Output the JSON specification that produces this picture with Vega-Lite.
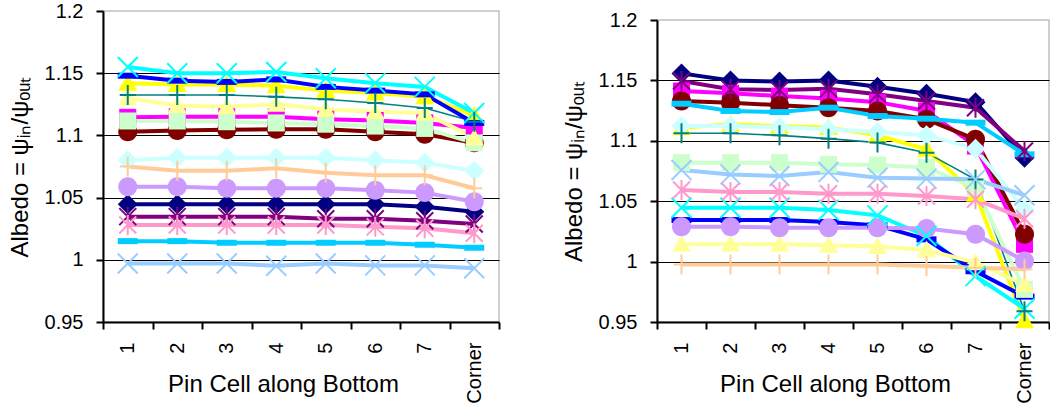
{
  "$schema": "https://vega.github.io/schema/vega-lite/v6.json",
  "padding": {"left": 7, "top": 0, "right": 0, "bottom": 0},
  "spacing": 60,
  "config": {
    "font": "Liberation Sans, Arial, sans-serif",
    "view": {"stroke": "#c0c0c0", "strokeWidth": 1.5},
    "axis": {
      "labelFontSize": 20, "titleFontSize": 24, "titleFontWeight": "normal",
      "labelColor": "black", "titleColor": "black",
      "domainColor": "black", "domainWidth": 2,
      "tickColor": "black", "tickWidth": 2, "tickSize": 7,
      "labelPadding": 13, "titlePadding": 12
    }
  },
  "datasets": {
    "left": [
      {"s": "s01", "pin": "1", "v": 1.0446}, {"s": "s01", "pin": "2", "v": 1.0446}, {"s": "s01", "pin": "3", "v": 1.0446}, {"s": "s01", "pin": "4", "v": 1.0446}, {"s": "s01", "pin": "5", "v": 1.0446}, {"s": "s01", "pin": "6", "v": 1.0446}, {"s": "s01", "pin": "7", "v": 1.0427}, {"s": "s01", "pin": "Corner", "v": 1.0387},
      {"s": "s02", "pin": "1", "v": 1.1145}, {"s": "s02", "pin": "2", "v": 1.115}, {"s": "s02", "pin": "3", "v": 1.115}, {"s": "s02", "pin": "4", "v": 1.115}, {"s": "s02", "pin": "5", "v": 1.113}, {"s": "s02", "pin": "6", "v": 1.112}, {"s": "s02", "pin": "7", "v": 1.11}, {"s": "s02", "pin": "Corner", "v": 1.106},
      {"s": "s03", "pin": "1", "v": 1.142}, {"s": "s03", "pin": "2", "v": 1.141}, {"s": "s03", "pin": "3", "v": 1.141}, {"s": "s03", "pin": "4", "v": 1.14}, {"s": "s03", "pin": "5", "v": 1.136}, {"s": "s03", "pin": "6", "v": 1.134}, {"s": "s03", "pin": "7", "v": 1.131}, {"s": "s03", "pin": "Corner", "v": 1.116},
      {"s": "s04", "pin": "1", "v": 1.155}, {"s": "s04", "pin": "2", "v": 1.15}, {"s": "s04", "pin": "3", "v": 1.15}, {"s": "s04", "pin": "4", "v": 1.151}, {"s": "s04", "pin": "5", "v": 1.146}, {"s": "s04", "pin": "6", "v": 1.142}, {"s": "s04", "pin": "7", "v": 1.139}, {"s": "s04", "pin": "Corner", "v": 1.118},
      {"s": "s05", "pin": "1", "v": 1.0347}, {"s": "s05", "pin": "2", "v": 1.0347}, {"s": "s05", "pin": "3", "v": 1.0347}, {"s": "s05", "pin": "4", "v": 1.0347}, {"s": "s05", "pin": "5", "v": 1.033}, {"s": "s05", "pin": "6", "v": 1.033}, {"s": "s05", "pin": "7", "v": 1.0314}, {"s": "s05", "pin": "Corner", "v": 1.0288},
      {"s": "s06", "pin": "1", "v": 1.103}, {"s": "s06", "pin": "2", "v": 1.104}, {"s": "s06", "pin": "3", "v": 1.1045}, {"s": "s06", "pin": "4", "v": 1.105}, {"s": "s06", "pin": "5", "v": 1.105}, {"s": "s06", "pin": "6", "v": 1.103}, {"s": "s06", "pin": "7", "v": 1.101}, {"s": "s06", "pin": "Corner", "v": 1.094},
      {"s": "s07", "pin": "1", "v": 1.1325}, {"s": "s07", "pin": "2", "v": 1.1325}, {"s": "s07", "pin": "3", "v": 1.1325}, {"s": "s07", "pin": "4", "v": 1.131}, {"s": "s07", "pin": "5", "v": 1.129}, {"s": "s07", "pin": "6", "v": 1.126}, {"s": "s07", "pin": "7", "v": 1.122}, {"s": "s07", "pin": "Corner", "v": 1.111},
      {"s": "s08", "pin": "1", "v": 1.148}, {"s": "s08", "pin": "2", "v": 1.144}, {"s": "s08", "pin": "3", "v": 1.143}, {"s": "s08", "pin": "4", "v": 1.145}, {"s": "s08", "pin": "5", "v": 1.139}, {"s": "s08", "pin": "6", "v": 1.136}, {"s": "s08", "pin": "7", "v": 1.133}, {"s": "s08", "pin": "Corner", "v": 1.11},
      {"s": "s09", "pin": "1", "v": 1.015}, {"s": "s09", "pin": "2", "v": 1.015}, {"s": "s09", "pin": "3", "v": 1.0137}, {"s": "s09", "pin": "4", "v": 1.0137}, {"s": "s09", "pin": "5", "v": 1.0137}, {"s": "s09", "pin": "6", "v": 1.0137}, {"s": "s09", "pin": "7", "v": 1.0121}, {"s": "s09", "pin": "Corner", "v": 1.0097},
      {"s": "s10", "pin": "1", "v": 1.08}, {"s": "s10", "pin": "2", "v": 1.082}, {"s": "s10", "pin": "3", "v": 1.082}, {"s": "s10", "pin": "4", "v": 1.082}, {"s": "s10", "pin": "5", "v": 1.082}, {"s": "s10", "pin": "6", "v": 1.08}, {"s": "s10", "pin": "7", "v": 1.078}, {"s": "s10", "pin": "Corner", "v": 1.0716},
      {"s": "s11", "pin": "1", "v": 1.1116}, {"s": "s11", "pin": "2", "v": 1.1116}, {"s": "s11", "pin": "3", "v": 1.111}, {"s": "s11", "pin": "4", "v": 1.11}, {"s": "s11", "pin": "5", "v": 1.109}, {"s": "s11", "pin": "6", "v": 1.1075}, {"s": "s11", "pin": "7", "v": 1.1056}, {"s": "s11", "pin": "Corner", "v": 1.094},
      {"s": "s12", "pin": "1", "v": 1.13}, {"s": "s12", "pin": "2", "v": 1.124}, {"s": "s12", "pin": "3", "v": 1.123}, {"s": "s12", "pin": "4", "v": 1.125}, {"s": "s12", "pin": "5", "v": 1.121}, {"s": "s12", "pin": "6", "v": 1.119}, {"s": "s12", "pin": "7", "v": 1.118}, {"s": "s12", "pin": "Corner", "v": 1.098},
      {"s": "s13", "pin": "1", "v": 0.997}, {"s": "s13", "pin": "2", "v": 0.997}, {"s": "s13", "pin": "3", "v": 0.997}, {"s": "s13", "pin": "4", "v": 0.9952}, {"s": "s13", "pin": "5", "v": 0.997}, {"s": "s13", "pin": "6", "v": 0.9955}, {"s": "s13", "pin": "7", "v": 0.9955}, {"s": "s13", "pin": "Corner", "v": 0.9932},
      {"s": "s14", "pin": "1", "v": 1.028}, {"s": "s14", "pin": "2", "v": 1.028}, {"s": "s14", "pin": "3", "v": 1.028}, {"s": "s14", "pin": "4", "v": 1.028}, {"s": "s14", "pin": "5", "v": 1.028}, {"s": "s14", "pin": "6", "v": 1.0265}, {"s": "s14", "pin": "7", "v": 1.0253}, {"s": "s14", "pin": "Corner", "v": 1.0213},
      {"s": "s15", "pin": "1", "v": 1.0588}, {"s": "s15", "pin": "2", "v": 1.0588}, {"s": "s15", "pin": "3", "v": 1.0575}, {"s": "s15", "pin": "4", "v": 1.0575}, {"s": "s15", "pin": "5", "v": 1.0575}, {"s": "s15", "pin": "6", "v": 1.056}, {"s": "s15", "pin": "7", "v": 1.054}, {"s": "s15", "pin": "Corner", "v": 1.0467},
      {"s": "s16", "pin": "1", "v": 1.075}, {"s": "s16", "pin": "2", "v": 1.0716}, {"s": "s16", "pin": "3", "v": 1.0716}, {"s": "s16", "pin": "4", "v": 1.0735}, {"s": "s16", "pin": "5", "v": 1.07}, {"s": "s16", "pin": "6", "v": 1.068}, {"s": "s16", "pin": "7", "v": 1.068}, {"s": "s16", "pin": "Corner", "v": 1.0575}
    ],
    "right": [
      {"s": "s01", "pin": "1", "v": 1.1558}, {"s": "s01", "pin": "2", "v": 1.15}, {"s": "s01", "pin": "3", "v": 1.149}, {"s": "s01", "pin": "4", "v": 1.15}, {"s": "s01", "pin": "5", "v": 1.1448}, {"s": "s01", "pin": "6", "v": 1.139}, {"s": "s01", "pin": "7", "v": 1.132}, {"s": "s01", "pin": "Corner", "v": 1.086},
      {"s": "s02", "pin": "1", "v": 1.1412}, {"s": "s02", "pin": "2", "v": 1.1393}, {"s": "s02", "pin": "3", "v": 1.137}, {"s": "s02", "pin": "4", "v": 1.135}, {"s": "s02", "pin": "5", "v": 1.132}, {"s": "s02", "pin": "6", "v": 1.1247}, {"s": "s02", "pin": "7", "v": 1.0957}, {"s": "s02", "pin": "Corner", "v": 1.0143},
      {"s": "s03", "pin": "1", "v": 1.1109}, {"s": "s03", "pin": "2", "v": 1.1136}, {"s": "s03", "pin": "3", "v": 1.1122}, {"s": "s03", "pin": "4", "v": 1.111}, {"s": "s03", "pin": "5", "v": 1.1045}, {"s": "s03", "pin": "6", "v": 1.093}, {"s": "s03", "pin": "7", "v": 1.0557}, {"s": "s03", "pin": "Corner", "v": 0.951},
      {"s": "s04", "pin": "1", "v": 1.0446}, {"s": "s04", "pin": "2", "v": 1.0446}, {"s": "s04", "pin": "3", "v": 1.0446}, {"s": "s04", "pin": "4", "v": 1.0427}, {"s": "s04", "pin": "5", "v": 1.0383}, {"s": "s04", "pin": "6", "v": 1.0212}, {"s": "s04", "pin": "7", "v": 0.988}, {"s": "s04", "pin": "Corner", "v": 0.961},
      {"s": "s05", "pin": "1", "v": 1.1495}, {"s": "s05", "pin": "2", "v": 1.1426}, {"s": "s05", "pin": "3", "v": 1.142}, {"s": "s05", "pin": "4", "v": 1.143}, {"s": "s05", "pin": "5", "v": 1.1385}, {"s": "s05", "pin": "6", "v": 1.133}, {"s": "s05", "pin": "7", "v": 1.1274}, {"s": "s05", "pin": "Corner", "v": 1.0915},
      {"s": "s06", "pin": "1", "v": 1.133}, {"s": "s06", "pin": "2", "v": 1.1316}, {"s": "s06", "pin": "3", "v": 1.1294}, {"s": "s06", "pin": "4", "v": 1.1274}, {"s": "s06", "pin": "5", "v": 1.1247}, {"s": "s06", "pin": "6", "v": 1.1178}, {"s": "s06", "pin": "7", "v": 1.1012}, {"s": "s06", "pin": "Corner", "v": 1.0226},
      {"s": "s07", "pin": "1", "v": 1.1062}, {"s": "s07", "pin": "2", "v": 1.1062}, {"s": "s07", "pin": "3", "v": 1.1045}, {"s": "s07", "pin": "4", "v": 1.1018}, {"s": "s07", "pin": "5", "v": 1.0985}, {"s": "s07", "pin": "6", "v": 1.0902}, {"s": "s07", "pin": "7", "v": 1.068}, {"s": "s07", "pin": "Corner", "v": 0.959},
      {"s": "s08", "pin": "1", "v": 1.0344}, {"s": "s08", "pin": "2", "v": 1.0344}, {"s": "s08", "pin": "3", "v": 1.0344}, {"s": "s08", "pin": "4", "v": 1.0328}, {"s": "s08", "pin": "5", "v": 1.03}, {"s": "s08", "pin": "6", "v": 1.0184}, {"s": "s08", "pin": "7", "v": 0.992}, {"s": "s08", "pin": "Corner", "v": 0.971},
      {"s": "s09", "pin": "1", "v": 1.1307}, {"s": "s09", "pin": "2", "v": 1.1247}, {"s": "s09", "pin": "3", "v": 1.1238}, {"s": "s09", "pin": "4", "v": 1.1274}, {"s": "s09", "pin": "5", "v": 1.1205}, {"s": "s09", "pin": "6", "v": 1.1183}, {"s": "s09", "pin": "7", "v": 1.115}, {"s": "s09", "pin": "Corner", "v": 1.0888},
      {"s": "s10", "pin": "1", "v": 1.1123}, {"s": "s10", "pin": "2", "v": 1.1123}, {"s": "s10", "pin": "3", "v": 1.1114}, {"s": "s10", "pin": "4", "v": 1.1095}, {"s": "s10", "pin": "5", "v": 1.1073}, {"s": "s10", "pin": "6", "v": 1.1045}, {"s": "s10", "pin": "7", "v": 1.0935}, {"s": "s10", "pin": "Corner", "v": 1.043},
      {"s": "s11", "pin": "1", "v": 1.0819}, {"s": "s11", "pin": "2", "v": 1.0819}, {"s": "s11", "pin": "3", "v": 1.0819}, {"s": "s11", "pin": "4", "v": 1.0805}, {"s": "s11", "pin": "5", "v": 1.08}, {"s": "s11", "pin": "6", "v": 1.0778}, {"s": "s11", "pin": "7", "v": 1.0612}, {"s": "s11", "pin": "Corner", "v": 0.977},
      {"s": "s12", "pin": "1", "v": 1.0143}, {"s": "s12", "pin": "2", "v": 1.0143}, {"s": "s12", "pin": "3", "v": 1.0143}, {"s": "s12", "pin": "4", "v": 1.0135}, {"s": "s12", "pin": "5", "v": 1.0124}, {"s": "s12", "pin": "6", "v": 1.0096}, {"s": "s12", "pin": "7", "v": 0.9991}, {"s": "s12", "pin": "Corner", "v": 0.981},
      {"s": "s13", "pin": "1", "v": 1.0758}, {"s": "s13", "pin": "2", "v": 1.0722}, {"s": "s13", "pin": "3", "v": 1.0709}, {"s": "s13", "pin": "4", "v": 1.0742}, {"s": "s13", "pin": "5", "v": 1.0695}, {"s": "s13", "pin": "6", "v": 1.0687}, {"s": "s13", "pin": "7", "v": 1.0681}, {"s": "s13", "pin": "Corner", "v": 1.0549},
      {"s": "s14", "pin": "1", "v": 1.0593}, {"s": "s14", "pin": "2", "v": 1.0576}, {"s": "s14", "pin": "3", "v": 1.0576}, {"s": "s14", "pin": "4", "v": 1.0562}, {"s": "s14", "pin": "5", "v": 1.0562}, {"s": "s14", "pin": "6", "v": 1.0543}, {"s": "s14", "pin": "7", "v": 1.0516}, {"s": "s14", "pin": "Corner", "v": 1.0355},
      {"s": "s15", "pin": "1", "v": 1.0289}, {"s": "s15", "pin": "2", "v": 1.0289}, {"s": "s15", "pin": "3", "v": 1.0281}, {"s": "s15", "pin": "4", "v": 1.0281}, {"s": "s15", "pin": "5", "v": 1.0281}, {"s": "s15", "pin": "6", "v": 1.0273}, {"s": "s15", "pin": "7", "v": 1.0226}, {"s": "s15", "pin": "Corner", "v": 1.0005},
      {"s": "s16", "pin": "1", "v": 0.9977}, {"s": "s16", "pin": "2", "v": 0.9977}, {"s": "s16", "pin": "3", "v": 0.9977}, {"s": "s16", "pin": "4", "v": 0.9977}, {"s": "s16", "pin": "5", "v": 0.9977}, {"s": "s16", "pin": "6", "v": 0.9964}, {"s": "s16", "pin": "7", "v": 0.995}, {"s": "s16", "pin": "Corner", "v": 0.9936}
    ],
    "blank": [{"a": 1}]
  },
  "hconcat": [
    {
      "width": 396, "height": 311,
      "data": {"name": "left"},
      "encoding": {
        "x": {"field": "pin", "type": "ordinal", "sort": ["1","2","3","4","5","6","7","Corner"],
              "scale": {"type": "band", "paddingInner": 0, "paddingOuter": 0},
              "axis": {"title": "Pin Cell along Bottom", "labelAngle": -90, "labelAlign": "right", "labelBaseline": "middle", "tickBand": "extent", "grid": false,
                       "titleBaseline": "alphabetic", "titleY": 69, "titleX": 180, "titleAlign": "center"}},
        "y": {"field": "v", "type": "quantitative",
              "scale": {"domain": [0.95, 1.2], "nice": false, "zero": false},
              "axis": {"title": "Albedo = ψᵢₙ/ψₒᵤₜ", "values": [0.95, 1, 1.05, 1.1, 1.15, 1.2], "format": "~g",
                       "grid": true, "gridWidth": 1.2,
                       "gridColor": {"condition": {"test": "datum.value > 1.19 || datum.value < 0.96", "value": "transparent"}, "value": "black"}}},
        "color": {"field": "s", "type": "nominal", "legend": null,
                  "scale": {"domain": ["s01","s02","s03","s04","s05","s06","s07","s08","s09","s10","s11","s12","s13","s14","s15","s16"],
                            "range": ["#000080","#FF00FF","#FFFF00","#00FFFF","#800080","#800000","#008080","#0000FF","#00CCFF","#CCFFFF","#CCFFCC","#FFFF99","#99CCFF","#FF99CC","#CC99FF","#FFCC99"]}},
        "shape": {"field": "s", "type": "nominal", "legend": null,
                  "scale": {"domain": ["s01","s02","s03","s04","s05","s06","s07","s08","s09","s10","s11","s12","s13","s14","s15","s16"],
                            "range": ["M0,-1L1,0L0,1L-1,0Z","M-0.85,-0.85H0.85V0.85H-0.85Z","M0,-0.95L0.95,0.75H-0.95Z","M-1,-1L1,1M-1,1L1,-1","M-0.85,-0.85L0.85,0.85M-0.85,0.85L0.85,-0.85M0,-1V1","M0.95,0A0.95,0.95,0,1,1,-0.95,0A0.95,0.95,0,1,1,0.95,0Z","M-0.8,0H0.8M0,-1V1","M-1,-0.3H1V0.3H-1Z","M-1,-0.3H1V0.3H-1Z","M0,-1L1,0L0,1L-1,0Z","M-0.85,-0.85H0.85V0.85H-0.85Z","M0,-0.95L0.95,0.75H-0.95Z","M-1,-1L1,1M-1,1L1,-1","M-0.85,-0.85L0.85,0.85M-0.85,0.85L0.85,-0.85M0,-1V1","M0.95,0A0.95,0.95,0,1,1,-0.95,0A0.95,0.95,0,1,1,0.95,0Z","M-0.8,0H0.8M0,-1V1"]}}
      },
      "layer": [
        {"mark": {"type": "line"},
         "encoding": {"shape": null, "strokeWidth": {"condition": {"test": "datum.s === 's07'", "value": 1.6}, "value": 4}}},
        {"transform": [{"filter": {"field": "s", "oneOf": ["s01","s02","s03","s06","s08","s09","s10","s11","s12","s15"]}}],
         "mark": {"type": "point", "filled": true, "opacity": 1, "size": 400, "strokeWidth": 0}},
        {"transform": [{"filter": {"field": "s", "oneOf": ["s04","s05","s07","s13","s14","s16"]}}],
         "mark": {"type": "point", "filled": false, "opacity": 1, "size": 400, "strokeWidth": 2}}
      ]
    },
    {
      "spacing": -8,
      "vconcat": [
        {"width": 392, "height": 1, "data": {"name": "blank"}, "mark": {"type": "text", "text": ""}, "view": {"stroke": null}},
        {
          "width": 392, "height": 302,
          "data": {"name": "right"},
          "encoding": {
            "x": {"field": "pin", "type": "ordinal", "sort": ["1","2","3","4","5","6","7","Corner"],
                  "scale": {"type": "band", "paddingInner": 0, "paddingOuter": 0},
                  "axis": {"title": "Pin Cell along Bottom", "labelAngle": -90, "labelAlign": "right", "labelBaseline": "middle", "tickBand": "extent", "grid": false,
                           "titleBaseline": "alphabetic", "titleY": 69, "titleX": 178, "titleAlign": "center"}},
            "y": {"field": "v", "type": "quantitative",
                  "scale": {"domain": [0.95, 1.2], "nice": false, "zero": false},
                  "axis": {"title": "Albedo = ψᵢₙ/ψₒᵤₜ", "values": [0.95, 1, 1.05, 1.1, 1.15, 1.2], "format": "~g",
                           "grid": true, "gridWidth": 1.2,
                           "gridColor": {"condition": {"test": "datum.value > 1.19 || datum.value < 0.96", "value": "transparent"}, "value": "black"}}},
            "color": {"field": "s", "type": "nominal", "legend": null,
                      "scale": {"domain": ["s01","s02","s03","s04","s05","s06","s07","s08","s09","s10","s11","s12","s13","s14","s15","s16"],
                                "range": ["#000080","#FF00FF","#FFFF00","#00FFFF","#800080","#800000","#008080","#0000FF","#00CCFF","#CCFFFF","#CCFFCC","#FFFF99","#99CCFF","#FF99CC","#CC99FF","#FFCC99"]}},
            "shape": {"field": "s", "type": "nominal", "legend": null,
                      "scale": {"domain": ["s01","s02","s03","s04","s05","s06","s07","s08","s09","s10","s11","s12","s13","s14","s15","s16"],
                                "range": ["M0,-1L1,0L0,1L-1,0Z","M-0.85,-0.85H0.85V0.85H-0.85Z","M0,-0.95L0.95,0.75H-0.95Z","M-1,-1L1,1M-1,1L1,-1","M-0.85,-0.85L0.85,0.85M-0.85,0.85L0.85,-0.85M0,-1V1","M0.95,0A0.95,0.95,0,1,1,-0.95,0A0.95,0.95,0,1,1,0.95,0Z","M-0.8,0H0.8M0,-1V1","M-1,-0.3H1V0.3H-1Z","M-1,-0.3H1V0.3H-1Z","M0,-1L1,0L0,1L-1,0Z","M-0.85,-0.85H0.85V0.85H-0.85Z","M0,-0.95L0.95,0.75H-0.95Z","M-1,-1L1,1M-1,1L1,-1","M-0.85,-0.85L0.85,0.85M-0.85,0.85L0.85,-0.85M0,-1V1","M0.95,0A0.95,0.95,0,1,1,-0.95,0A0.95,0.95,0,1,1,0.95,0Z","M-0.8,0H0.8M0,-1V1"]}}
          },
          "layer": [
            {"mark": {"type": "line"},
             "encoding": {"shape": null, "strokeWidth": {"condition": {"test": "datum.s === 's07'", "value": 1.6}, "value": 4}}},
            {"transform": [{"filter": {"field": "s", "oneOf": ["s01","s02","s03","s06","s08","s09","s10","s11","s12","s15"]}}],
             "mark": {"type": "point", "filled": true, "opacity": 1, "size": 400, "strokeWidth": 0}},
            {"transform": [{"filter": {"field": "s", "oneOf": ["s04","s05","s07","s13","s14","s16"]}}],
             "mark": {"type": "point", "filled": false, "opacity": 1, "size": 400, "strokeWidth": 2}}
          ]
        }
      ]
    }
  ]
}
